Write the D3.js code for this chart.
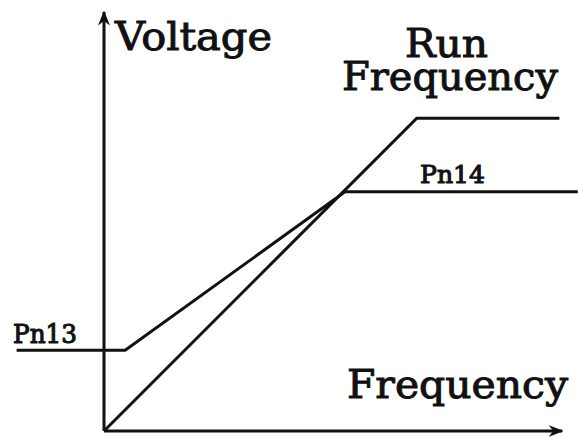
<!DOCTYPE html>
<html>
<head>
<meta charset="utf-8">
<script src="https://cdn.jsdelivr.net/npm/d3@7"></script>
<style>
  html, body { margin: 0; padding: 0; background: #fff; }
  svg { display: block; }
  text { font-family: "DejaVu Serif", serif; fill: #111; }
</style>
</head>
<body>
<svg id="chart" width="578" height="445"></svg>
<script>
// Data (frequency %, voltage %)
const runFreqX = [0, 68, 99];
const runFreqV = [0, 74.3, 74.3];
const vfCurveX = [-19, 4.6, 52.4, 103];
const vfCurveV = [19.2, 19.2, 56.8, 56.8];
const labels = { yAxis: "Voltage", xAxis: "Frequency", run: ["Run", "Frequency"], pn13: "Pn13", pn14: "Pn14" };

const svg = d3.select("#chart");
const x = d3.scaleLinear().domain([0, 100]).range([104, 564]);
const y = d3.scaleLinear().domain([0, 100]).range([431, 10]);

const defs = svg.append("defs");
defs.append("marker").attr("id", "arr").attr("viewBox", "0 0 10 10")
  .attr("refX", 9).attr("refY", 5).attr("markerWidth", 5).attr("markerHeight", 5)
  .attr("markerUnits", "strokeWidth").attr("orient", "auto")
  .append("path").attr("d", "M0,1 L10,5 L0,9 L3,5 Z").attr("fill", "#111");

// axes
svg.append("line").attr("x1", x(0)).attr("y1", y(0)).attr("x2", x(0)).attr("y2", y(99.5))
  .attr("stroke", "#111").attr("stroke-width", 3).attr("marker-end", "url(#arr)");
svg.append("line").attr("x1", x(0)).attr("y1", y(0)).attr("x2", x(99.6)).attr("y2", y(0))
  .attr("stroke", "#111").attr("stroke-width", 3).attr("marker-end", "url(#arr)");

const line = d3.line().x(d => x(d[0])).y(d => y(d[1]));
svg.append("path").datum(d3.zip(runFreqX, runFreqV)).attr("d", line)
  .attr("fill", "none").attr("stroke", "#111").attr("stroke-width", 3).attr("stroke-linejoin", "miter");
svg.append("path").datum(d3.zip(vfCurveX, vfCurveV)).attr("d", line)
  .attr("fill", "none").attr("stroke", "#111").attr("stroke-width", 3).attr("stroke-linejoin", "miter");

function label(t, px, py, size, len, sw) {
  svg.append("text").attr("x", px).attr("y", py).attr("font-size", size)
    .attr("textLength", len).attr("lengthAdjust", "spacingAndGlyphs")
    .attr("stroke", "#111").attr("stroke-width", sw).text(t);
}
label(labels.yAxis, 115, 50, 40, 157, 1);
label(labels.xAxis, 347, 398, 40, 221, 1);
label(labels.pn13, 13, 343, 26, 64, 1.1);
label(labels.pn14, 420, 183, 25, 65, 1.1);

// two-line label as one text element
const runT = svg.append("text").attr("font-size", 39)
  .attr("stroke", "#111").attr("stroke-width", 1);
runT.append("tspan").attr("x", 405).attr("y", 57)
  .attr("textLength", 83).attr("lengthAdjust", "spacingAndGlyphs").text(labels.run[0]);
runT.append("tspan").attr("x", 342).attr("y", 90)
  .attr("textLength", 216).attr("lengthAdjust", "spacingAndGlyphs").text(labels.run[1]);
</script>
</body>
</html>
